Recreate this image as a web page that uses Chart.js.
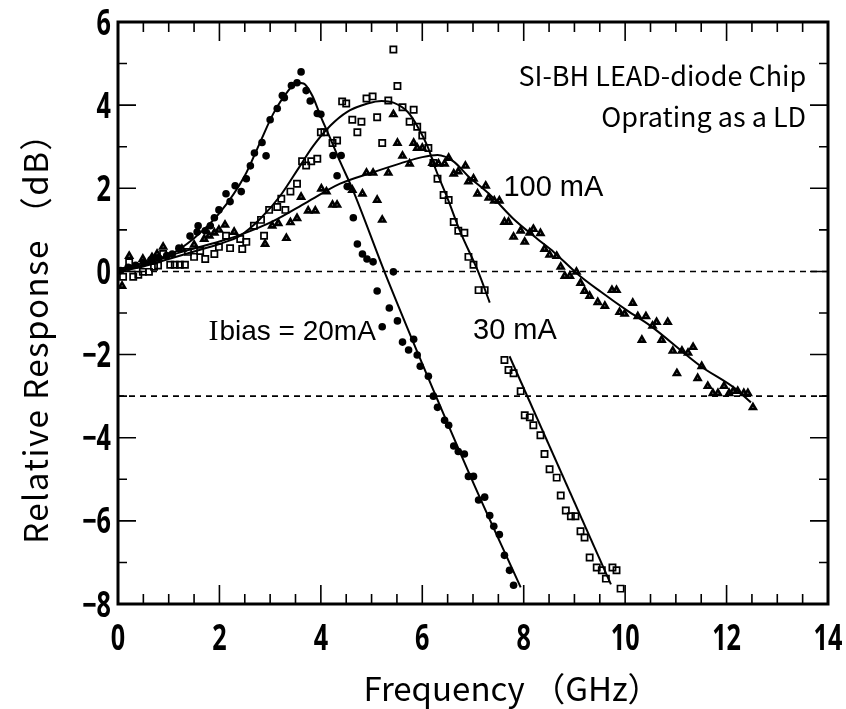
<!DOCTYPE html>
<html>
<head>
<meta charset="utf-8">
<script src="https://cdn.jsdelivr.net/npm/chart.js@4.4.0/dist/chart.umd.min.js"></script>
<style>
  body { margin: 0; background: #fff; }
</style>
</head>
<body>
<canvas id="chart" width="846" height="709"></canvas>
<script>
// tick labels
const xTickLabels = [0, 2, 4, 6, 8, 10, 12, 14];
const yTickLabels = [-8, -6, -4, -2, 0, 2, 4, 6];
const refLevels = [0, -3];

// Ibias = 20 mA (filled circles)
const freq20 = [0.05, 0.2, 0.35, 0.5, 0.65, 0.8, 0.96, 1.07, 1.2, 1.42, 1.56, 1.58, 1.72, 1.82, 1.9, 1.99, 2.13, 2.21, 2.31, 2.43, 2.53, 2.61, 2.69, 2.84, 2.92, 3.0, 3.14, 3.24, 3.28, 3.42, 3.53, 3.61, 3.71, 3.79, 3.93, 4.0, 4.24, 4.32, 4.4, 4.52, 4.64, 4.72, 4.82, 4.91, 5.03, 5.11, 5.21, 5.35, 5.43, 5.51, 5.61, 5.73, 5.83, 5.9, 5.96, 6.12, 6.22, 6.3, 6.44, 6.52, 6.62, 6.71, 6.83, 6.91, 7.01, 7.11, 7.23, 7.33, 7.41, 7.52, 7.62, 7.72, 7.8];
const resp20 = [0.02, 0.1, 0.15, 0.22, 0.28, 0.33, 0.38, 0.42, 0.56, 0.85, 0.95, 1.1, 0.98, 1.1, 1.29, 1.48, 1.87, 1.68, 2.06, 1.92, 2.23, 2.54, 2.85, 3.1, 2.78, 3.65, 3.92, 4.23, 4.18, 4.47, 4.54, 4.8, 4.35, 4.1, 3.8, 3.78, 2.79, 2.3, 2.79, 2.04, 1.29, 0.66, 0.42, 0.3, 0.23, -0.47, -1.33, -0.88, -0.01, -1.19, -1.7, -1.89, -1.63, -2.01, -2.28, -2.52, -3.0, -3.27, -3.58, -3.7, -4.2, -4.33, -4.39, -4.93, -4.93, -5.5, -5.43, -5.87, -6.13, -6.33, -6.83, -7.19, -7.55];

// 30 mA (open squares)
const freq30 = [0.1, 0.22, 0.3, 0.4, 0.49, 0.61, 0.71, 0.79, 0.89, 1.03, 1.12, 1.22, 1.32, 1.38, 1.5, 1.62, 1.72, 1.9, 1.99, 2.13, 2.21, 2.41, 2.45, 2.53, 2.68, 2.82, 2.88, 2.98, 3.14, 3.22, 3.3, 3.4, 3.53, 3.63, 3.71, 3.81, 3.93, 4.0, 4.07, 4.23, 4.32, 4.42, 4.5, 4.62, 4.72, 4.8, 4.9, 5.02, 5.11, 5.21, 5.33, 5.43, 5.51, 5.61, 5.75, 5.83, 5.9, 6.0, 6.12, 6.22, 6.3, 6.42, 6.52, 6.62, 6.71, 6.83, 6.91, 7.01, 7.11, 7.23, 7.62, 7.7, 7.8, 7.94, 8.02, 8.12, 8.19, 8.33, 8.41, 8.51, 8.65, 8.73, 8.83, 8.93, 9.02, 9.12, 9.2, 9.3, 9.44, 9.54, 9.62, 9.75, 9.83, 9.91];
const resp30 = [-0.13, 0.22, -0.13, -0.08, -0.01, -0.01, 0.11, 0.14, 0.42, 0.16, 0.16, 0.16, 0.16, 0.47, 0.35, 0.49, 0.3, 0.42, 0.59, 0.86, 0.56, 0.78, 0.54, 0.71, 1.1, 1.24, 0.86, 1.48, 1.55, 1.75, 1.48, 1.92, 2.11, 2.65, 2.55, 2.65, 2.71, 3.35, 3.35, 3.09, 3.15, 4.09, 4.04, 3.65, 3.35, 3.6, 4.16, 4.21, 3.71, 3.09, 4.11, 5.34, 4.46, 3.95, 3.6, 3.89, 3.48, 3.27, 2.97, 2.61, 2.23, 1.84, 1.72, 1.19, 0.98, 0.93, 0.35, 0.16, -0.45, -0.45, -2.13, -2.37, -2.45, -2.88, -3.46, -3.51, -3.7, -3.94, -4.39, -4.76, -4.96, -5.39, -5.75, -5.89, -5.89, -6.25, -6.4, -6.88, -7.12, -7.19, -7.39, -7.12, -7.19, -7.63];

// 100 mA (triangles)
const freq100 = [0.08, 0.22, 0.49, 0.63, 0.67, 0.77, 0.89, 1.26, 1.5, 1.7, 1.8, 1.9, 1.99, 2.11, 2.29, 2.9, 3.04, 3.16, 3.32, 3.4, 3.53, 3.61, 3.75, 3.89, 4.01, 4.11, 4.23, 4.32, 4.62, 4.82, 4.9, 5.03, 5.11, 5.21, 5.33, 5.43, 5.51, 5.61, 5.75, 5.83, 5.9, 6.0, 6.2, 6.32, 6.44, 6.52, 6.62, 6.71, 6.85, 6.91, 7.01, 7.09, 7.25, 7.31, 7.42, 7.52, 7.62, 7.7, 7.8, 7.94, 8.02, 8.12, 8.19, 8.33, 8.41, 8.51, 8.65, 8.73, 8.81, 8.91, 9.04, 9.12, 9.2, 9.3, 9.46, 9.6, 9.74, 9.83, 9.89, 9.99, 10.15, 10.25, 10.33, 10.41, 10.54, 10.62, 10.72, 10.84, 10.94, 11.02, 11.12, 11.24, 11.34, 11.43, 11.51, 11.63, 11.73, 11.83, 11.95, 12.05, 12.13, 12.22, 12.34, 12.42, 12.52];
const resp100 = [-0.35, 0.37, 0.3, 0.23, 0.34, 0.42, 0.59, 0.54, 0.64, 0.78, 0.86, 0.93, 1.0, 1.12, 0.95, 0.66, 1.1, 1.16, 0.8, 1.18, 1.28, 1.79, 1.46, 1.46, 1.99, 1.92, 1.6, 1.6, 1.96, 1.87, 2.37, 2.37, 1.72, 1.24, 2.37, 3.78, 3.09, 2.78, 2.59, 3.09, 2.97, 2.97, 2.61, 2.59, 2.59, 2.73, 2.35, 2.4, 2.54, 2.16, 2.23, 1.87, 2.06, 1.77, 1.7, 1.7, 1.19, 1.19, 0.83, 0.98, 0.71, 0.93, 1.02, 0.92, 0.54, 0.4, 0.37, 0.11, -0.11, -0.11, -0.01, -0.28, -0.47, -0.59, -0.74, -0.83, -0.45, -0.45, -0.98, -1.02, -0.76, -1.08, -1.65, -1.08, -1.31, -1.22, -1.65, -1.22, -1.91, -2.45, -1.91, -1.96, -1.82, -2.57, -2.28, -2.76, -2.93, -2.93, -2.76, -2.93, -2.88, -2.88, -2.93, -2.93, -3.27];

// fitted curves
const fit20Freq = [0, 0.5, 1.0, 1.5, 2.0, 2.5, 2.8, 3.06, 3.34, 3.53, 3.66, 3.83, 3.99, 4.19, 4.38, 4.62, 5.31, 6.95, 7.94];
const fit20Resp = [0.02, 0.15, 0.38, 0.8, 1.4, 2.3, 3.1, 3.79, 4.32, 4.54, 4.52, 4.23, 3.75, 3.19, 2.64, 1.99, -0.18, -4.93, -7.6];
const fit30Freq = [0, 0.5, 1.0, 1.5, 2.0, 2.41, 2.8, 3.2, 3.59, 3.85, 4.19, 4.52, 4.92, 5.2, 5.43, 5.71, 5.9, 6.1, 6.26, 6.5, 6.75, 7.1, 7.33];
const fit30Resp = [0.0, 0.12, 0.3, 0.48, 0.66, 0.86, 1.26, 1.82, 2.54, 3.02, 3.51, 3.84, 4.04, 4.1, 4.06, 3.84, 3.5, 3.02, 2.47, 1.75, 0.95, 0.0, -0.75];
const fit30LowFreq = [7.72, 9.72];
const fit30LowResp = [-2.04, -7.53];
const fit100Freq = [0, 0.5, 1.0, 1.5, 2.0, 2.41, 3.06, 3.73, 4.38, 5.04, 5.57, 6.0, 6.3, 6.62, 6.89, 7.35, 7.8, 8.27, 8.59, 9.06, 9.52, 10.05, 10.5, 11.49, 12.14, 12.48];
const fit100Resp = [0.05, 0.2, 0.38, 0.55, 0.72, 0.88, 1.21, 1.67, 2.11, 2.39, 2.6, 2.75, 2.8, 2.64, 2.31, 1.83, 1.26, 0.78, 0.47, -0.06, -0.49, -0.95, -1.31, -2.28, -2.79, -3.15];

const pts = (xs, ys) => xs.map((x, i) => ({ x: x, y: ys[i] }));

const GOTHIC = '"Noto Sans CJK JP", "Noto Sans", sans-serif';
const ARIAL = '"Liberation Sans", Arial, sans-serif';

const notes = [
    { text: 'SI-BH LEAD-diode Chip', x: 13.57, y: 4.71, align: 'right', font: '27px ' + GOTHIC },
    { text: 'Oprating as a LD', x: 13.57, y: 3.72, align: 'right', font: '27px ' + GOTHIC },
    { text: '100 mA', x: 7.6, y: 2.0, align: 'left', font: '29px ' + ARIAL },
    { text: '30 mA', x: 7.0, y: -1.44, align: 'left', font: '29px ' + ARIAL },
    { text: 'bias = 20mA', x: 2.0, y: -1.46, align: 'left', font: '28px ' + ARIAL, prefix: 'I' }
];

const yLabel = v => v < 0 ? '\u2212' + Math.abs(v) : String(v);

const framePlugin = {
    id: 'frame',
    afterDraw(chart) {
        const ctx = chart.ctx;
        const a = chart.chartArea;
        const xs = chart.scales.x, ys = chart.scales.y;
        ctx.save();
        ctx.strokeStyle = '#000';
        ctx.lineWidth = 1.6;
        ctx.beginPath();
        for (let v = 0; v <= 14; v += 0.5) {
            const px = xs.getPixelForValue(v);
            const len = v % 2 === 0 ? 19 : 10;
            ctx.moveTo(px, a.bottom); ctx.lineTo(px, a.bottom - len);
            ctx.moveTo(px, a.top); ctx.lineTo(px, a.top + len);
        }
        for (let v = -8; v <= 6; v += 1) {
            const py = ys.getPixelForValue(v);
            const len = v % 2 === 0 ? 18 : 9;
            ctx.moveTo(a.left, py); ctx.lineTo(a.left + len, py);
            ctx.moveTo(a.right, py); ctx.lineTo(a.right - len, py);
        }
        ctx.stroke();
        ctx.lineWidth = 3;
        ctx.strokeRect(a.left, a.top, a.right - a.left, a.bottom - a.top);

        ctx.fillStyle = '#000';

        // tick labels: tall narrow digits
        ctx.font = 'bold 35px "Noto Sans", sans-serif';
        ctx.textBaseline = 'alphabetic';
        xs.ticks.forEach(t => {
            ctx.save();
            ctx.translate(xs.getPixelForValue(t.value), a.bottom + 46);
            ctx.scale(0.72, 1);
            ctx.textAlign = 'center';
            ctx.fillText(String(t.value), 0, 0);
            ctx.restore();
        });
        ys.ticks.forEach(t => {
            ctx.save();
            ctx.translate(a.left - 7, ys.getPixelForValue(t.value) + 12.5);
            ctx.scale(0.72, 1);
            ctx.textAlign = 'right';
            ctx.fillText(yLabel(t.value), 0, 0);
            ctx.restore();
        });

        ctx.textBaseline = 'middle';
        notes.forEach(n => {
            const px = xs.getPixelForValue(n.x);
            const py = ys.getPixelForValue(n.y);
            ctx.font = n.font;
            ctx.textAlign = n.align;
            ctx.fillText(n.text, px, py);
            if (n.prefix) {
                ctx.font = '30px "Liberation Serif", serif';
                ctx.textAlign = 'right';
                ctx.fillText(n.prefix, px - 1, py);
            }
        });

        // axis titles
        ctx.font = '33px ' + GOTHIC;
        ctx.textAlign = 'center';
        ctx.fillText('Frequency （GHz）', 512, 688);
        ctx.translate(35, 330);
        ctx.rotate(-Math.PI / 2);
        ctx.letterSpacing = '1.5px';
        ctx.fillText('Relative Response （dB）', 0, 0);
        ctx.restore();
    }
};

new Chart(document.getElementById('chart'), {
    type: 'scatter',
    data: {
        datasets: [
            ...refLevels.map(lv => ({
                type: 'line', data: [{ x: 0, y: lv }, { x: 14, y: lv }],
                borderColor: '#000', borderWidth: 1.6, borderDash: [6, 5], pointRadius: 0
            })),
            { type: 'line', data: pts(fit20Freq, fit20Resp), borderColor: '#000', borderWidth: 2, pointRadius: 0, cubicInterpolationMode: 'monotone' },
            { type: 'line', data: pts(fit30Freq, fit30Resp), borderColor: '#000', borderWidth: 2, pointRadius: 0, cubicInterpolationMode: 'monotone' },
            { type: 'line', data: pts(fit30LowFreq, fit30LowResp), borderColor: '#000', borderWidth: 2, pointRadius: 0 },
            { type: 'line', data: pts(fit100Freq, fit100Resp), borderColor: '#000', borderWidth: 2, pointRadius: 0, cubicInterpolationMode: 'monotone' },
            { label: '20 mA', data: pts(freq20, resp20), pointStyle: 'circle', pointRadius: 3.8, backgroundColor: '#000', borderColor: '#000', borderWidth: 0 },
            { label: '30 mA', data: pts(freq30, resp30), pointStyle: 'rect', pointRadius: 4.4, backgroundColor: 'rgba(0,0,0,0)', borderColor: '#000', borderWidth: 1.7 },
            { label: '100 mA', data: pts(freq100, resp100), pointStyle: 'triangle', pointRadius: 3.3, backgroundColor: '#fff', borderColor: '#000', borderWidth: 2.6 }
        ]
    },
    options: {
        responsive: false,
        animation: false,
        events: [],
        layout: { padding: { top: 22, right: 18, left: 0, bottom: 0 } },
        plugins: { legend: { display: false }, tooltip: { enabled: false } },
        scales: {
            x: {
                type: 'linear', min: 0, max: 14,
                afterBuildTicks: s => { s.ticks = xTickLabels.map(v => ({ value: v })); },
                afterFit: s => { s.height = 105; s.paddingLeft = 0; s.paddingRight = 0; },
                grid: { display: false, drawTicks: false },
                border: { display: false },
                ticks: { display: false }
            },
            y: {
                type: 'linear', min: -8, max: 6,
                afterBuildTicks: s => { s.ticks = yTickLabels.map(v => ({ value: v })); },
                afterFit: s => { s.width = 118; s.paddingTop = 0; s.paddingBottom = 0; },
                grid: { display: false, drawTicks: false },
                border: { display: false },
                ticks: { display: false }
            }
        }
    },
    plugins: [framePlugin]
});
</script>
</body>
</html>
